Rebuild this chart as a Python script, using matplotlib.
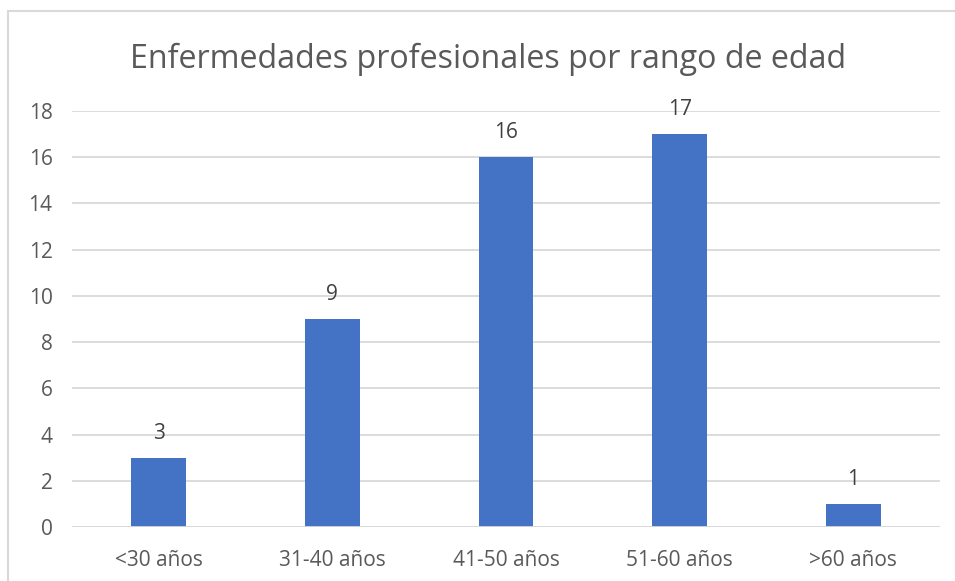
import matplotlib.pyplot as plt
from matplotlib.patches import Rectangle

categorias = ["<30 años", "31-40 años", "41-50 años", "51-60 años", ">60 años"]
casos = [3, 9, 16, 17, 1]
ticks_y = [0, 2, 4, 6, 8, 10, 12, 14, 16, 18]

gris_texto = "#595959"
gris_linea = "#d9d9d9"
azul = "#4472C4"

plt.rcParams['font.family'] = ['Open Sans', 'DejaVu Sans']

fig = plt.figure(figsize=(9.55, 5.81), dpi=100)
ax = fig.add_axes([72 / 955, 1 - 527 / 581, (940 - 72) / 955, (527 - 111) / 581])

x = range(len(categorias))
barras = ax.bar(x, casos, width=0.315, color=azul, zorder=3)
for b, v in zip(barras, casos):
    ax.text(b.get_x() + b.get_width() / 2, v + 0.6, str(v), ha="center", va="bottom",
            fontsize=15, color="#404040")

ax.set_xlim(-0.5, len(categorias) - 0.5)
ax.set_ylim(0, 18)
ax.set_yticks(ticks_y)
ax.set_xticks(list(x))
ax.set_xticklabels(categorias)
ax.tick_params(axis="both", length=0, labelsize=15, colors=gris_texto)
ax.tick_params(axis="y", pad=14)
ax.tick_params(axis="x", pad=16.5)
ax.grid(axis="y", color=gris_linea, linewidth=1.3, zorder=0)
for s in ax.spines.values():
    s.set_visible(False)
ax.axhline(0, color=gris_linea, linewidth=1.3, zorder=4)

fig.text(0.5115, 1 - 59 / 581, "Enfermedades profesionales por rango de edad", ha="center", va="center",
         fontsize=23.2, color=gris_texto)

# marco del grafico
fig.patches.append(Rectangle((8 / 955, -0.05), 1.0, 1 - 11 / 581 + 0.05, transform=fig.transFigure,
                             fill=False, edgecolor="#d9d9d9", linewidth=1.5))

fig.savefig("out.png", dpi=100)
